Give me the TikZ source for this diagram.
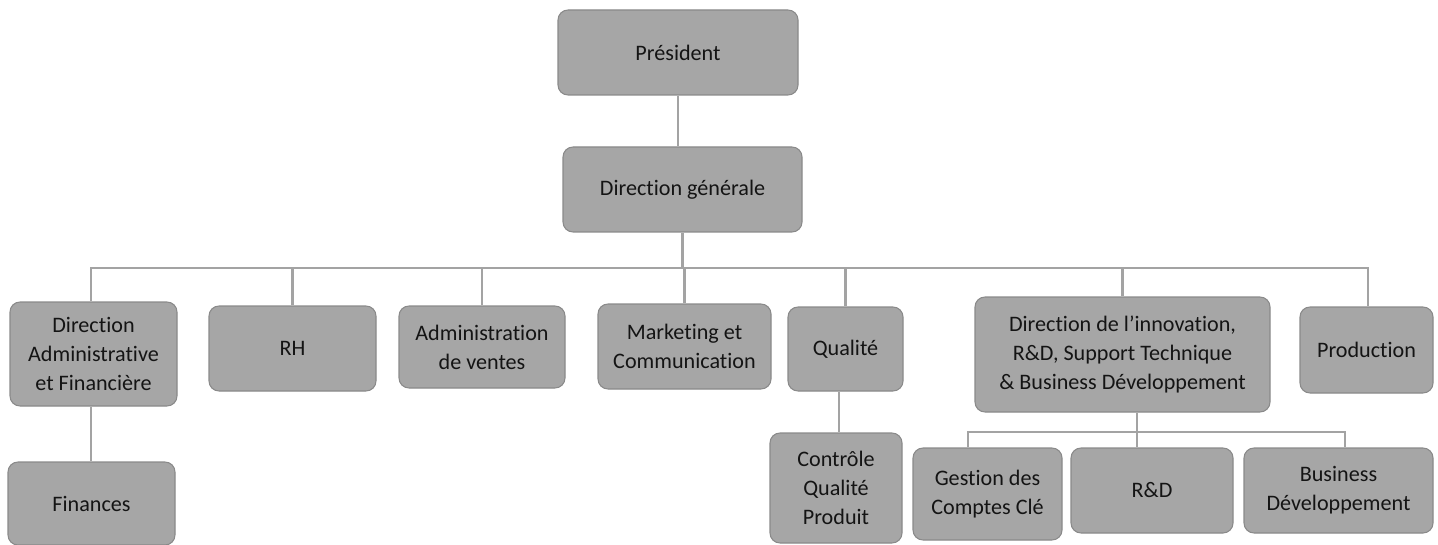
\documentclass[tikz,border=0pt]{standalone}
\usepackage{fontspec}
\setmainfont{Carlito}[Ligatures={NoCommon}]
\definecolor{boxfill}{HTML}{A6A6A6}
\definecolor{boxline}{HTML}{8A8A8A}
\definecolor{linecol}{HTML}{A3A3A3}
\definecolor{txt}{HTML}{141414}
\begin{document}
\begin{tikzpicture}[x=0.75pt,y=-0.75pt,
  box/.style={draw=boxline, fill=boxfill, rounded corners=7.5pt, line width=0.8pt,
    align=center, text=txt, inner sep=0pt,
    font=\fontsize{16.6}{21.8}\selectfont},
  conn/.style={draw=linecol, line width=1.7pt}]
\useasboundingbox (0,0) rectangle (1438,545);
% nodes
\node[box, minimum width=180pt, minimum height=63.75pt] (pres) at (678,52.5) {Président};
\node[box, minimum width=179.25pt, minimum height=63.75pt] (dg) at (682.5,189.5) {Direction générale};
\node[box, minimum width=125.25pt, minimum height=78pt] (daf) at (93.5,354) {Direction\\Administrative\\et Financière};
\node[box, minimum width=125.25pt, minimum height=63.75pt] (rh) at (292.5,348.5) {RH};
\node[box, minimum width=124.5pt, minimum height=61.5pt] (adv) at (482,347) {Administration\\de ventes};
\node[box, minimum width=129.75pt, minimum height=63.75pt] (mkt) at (684.5,346.5) {Marketing et\\Communication};
\node[box, minimum width=86.25pt, minimum height=63pt] (qual) at (845.5,349) {Qualité};
\node[box, minimum width=221.25pt, minimum height=86.25pt] (di) at (1122.5,354.5) {Direction de l’innovation,\\R\&D, Support Technique\\\& Business Développement};
\node[box, minimum width=99.75pt, minimum height=64.5pt] (prod) at (1366.5,350) {Production};
\node[box, minimum width=125.25pt, minimum height=62.25pt] (fin) at (91.5,503.5) {Finances};
\node[box, minimum width=99pt, minimum height=82.5pt] (cqp) at (836,488) {Contrôle\\Qualité\\Produit};
\node[box, minimum width=111.75pt, minimum height=69pt] (gcc) at (987.5,494) {Gestion des\\Comptes Clé};
\node[box, minimum width=121.5pt, minimum height=63.75pt] (rd) at (1152,490.5) {R\&D};
\node[box, minimum width=141.75pt, minimum height=63.75pt] (bd) at (1338.5,490.5) {Business\\Développement};
% bus coordinates
\coordinate (px) at (678,0);
\coordinate (busL) at (91,268);
\coordinate (busR) at (1368,268);
\coordinate (qx) at (839,0);
\coordinate (sbL) at (968,432);
\coordinate (sbM) at (1137,432);
\coordinate (sbR) at (1345,432);
% connectors
\draw[conn] (px |- pres.south) -- (px |- dg.north);
\draw[conn] (dg.south) -- (dg.south |- busL);
\draw[conn] (busL |- daf.north) -- (busL) -- (busR) -- (busR |- prod.north);
\draw[conn] (rh.north) -- (rh.north |- busL);
\draw[conn] (adv.north) -- (adv.north |- busL);
\draw[conn] (mkt.north) -- (mkt.north |- busL);
\draw[conn] (qual.north) -- (qual.north |- busL);
\draw[conn] (di.north) -- (di.north |- busL);
\draw[conn] (busL |- daf.south) -- (busL |- fin.north);
\draw[conn] (qx |- qual.south) -- (qx |- cqp.north);
\draw[conn] (sbM |- di.south) -- (sbM |- rd.north);
\draw[conn] (sbL |- gcc.north) -- (sbL) -- (sbR) -- (sbR |- bd.north);
\end{tikzpicture}
\end{document}
